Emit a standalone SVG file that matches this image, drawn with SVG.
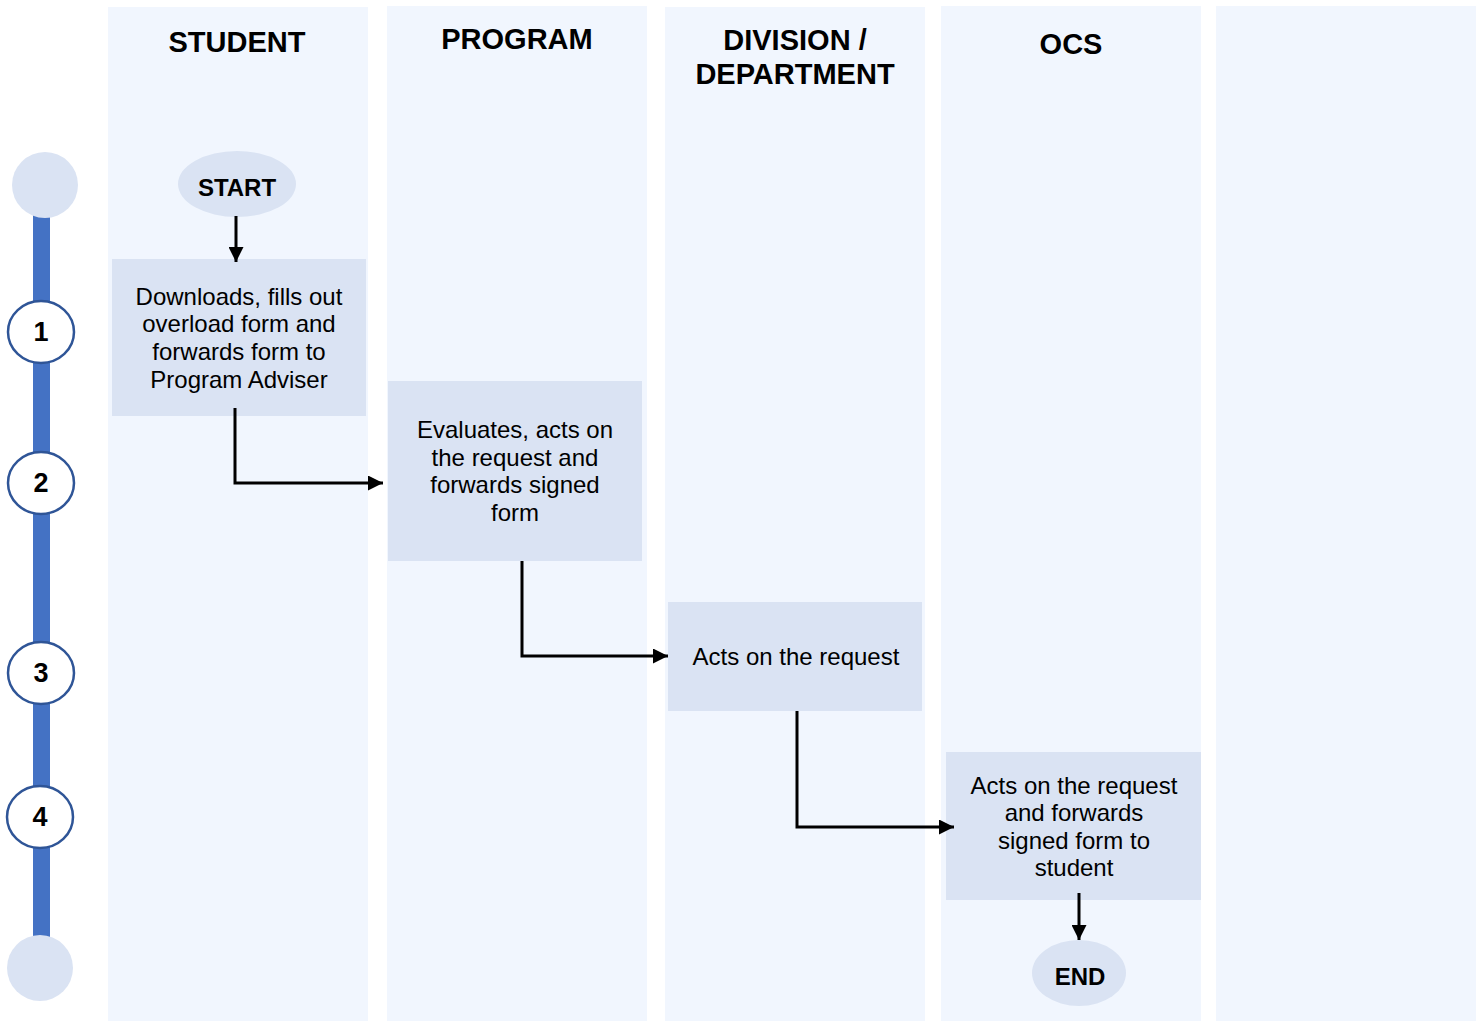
<svg xmlns="http://www.w3.org/2000/svg" width="1483" height="1021" viewBox="0 0 1483 1021">
<style>
.lane{fill:#f1f6fe}
.box{fill:#dae3f3}
.hdr{font-family:"Liberation Sans",Arial,sans-serif;font-weight:bold;font-size:29px;fill:#000;text-anchor:middle}
.t{font-family:"Liberation Sans",Arial,sans-serif;font-size:24px;fill:#000;text-anchor:middle}
.tb{font-family:"Liberation Sans",Arial,sans-serif;font-weight:bold;font-size:24px;fill:#000;text-anchor:middle}
.num{font-family:"Liberation Sans",Arial,sans-serif;font-weight:bold;font-size:27px;fill:#000;text-anchor:middle}
.step{fill:#fff;stroke:#2f5597;stroke-width:2.5}
.conn{fill:none;stroke:#000;stroke-width:3}
</style>
<defs>
<marker id="ah" markerWidth="5" markerHeight="5" refX="5" refY="2.5" orient="auto" markerUnits="strokeWidth">
<path d="M0,0 L5,2.5 L0,5 z" fill="#000"/>
</marker>
</defs>
<rect width="1483" height="1021" fill="#fff"/>
<g id="lanes">
<rect class="lane" x="108" y="7" width="260" height="1014"/>
<rect class="lane" x="387" y="6" width="260" height="1015"/>
<rect class="lane" x="665" y="7" width="260" height="1014"/>
<rect class="lane" x="941" y="6" width="260" height="1015"/>
<rect class="lane" x="1216" y="6" width="260" height="1015"/>
<text class="hdr" x="237" y="52">STUDENT</text>
<text class="hdr" x="517" y="49">PROGRAM</text>
<text class="hdr" x="795" y="50">DIVISION /</text>
<text class="hdr" x="795" y="84">DEPARTMENT</text>
<text class="hdr" x="1071" y="54">OCS</text>
</g>
<g id="timeline">
<rect x="33" y="190" width="17" height="770" fill="#4472c4"/>
<circle cx="45" cy="185" r="33" fill="#dae3f3"/>
<circle cx="40" cy="968" r="33" fill="#dae3f3"/>
<g id="step1"><ellipse class="step" cx="41" cy="332" rx="33" ry="31"/><text class="num" x="41" y="341">1</text></g>
<g id="step2"><ellipse class="step" cx="41" cy="483" rx="33" ry="31"/><text class="num" x="41" y="492">2</text></g>
<g id="step3"><ellipse class="step" cx="41" cy="673" rx="33" ry="31"/><text class="num" x="41" y="682">3</text></g>
<g id="step4"><ellipse class="step" cx="40" cy="817" rx="33" ry="31"/><text class="num" x="40" y="826">4</text></g>
</g>
<g id="start"><ellipse class="box" cx="237" cy="184" rx="59" ry="33"/><text class="tb" x="237" y="196">START</text></g>
<g id="n1"><rect class="box" x="112" y="259" width="254" height="157"/>
<text class="t" x="239" y="305">Downloads, fills out</text>
<text class="t" x="239" y="332">overload form and</text>
<text class="t" x="239" y="360">forwards form to</text>
<text class="t" x="239" y="388">Program Adviser</text></g>
<g id="n2"><rect class="box" x="388" y="381" width="254" height="180"/>
<text class="t" x="515" y="438">Evaluates, acts on</text>
<text class="t" x="515" y="466">the request and</text>
<text class="t" x="515" y="493">forwards signed</text>
<text class="t" x="515" y="521">form</text></g>
<g id="n3"><rect class="box" x="668" y="602" width="254" height="109"/>
<text class="t" x="796" y="665">Acts on the request</text></g>
<g id="n4"><rect class="box" x="946" y="752" width="255" height="148"/>
<text class="t" x="1074" y="794">Acts on the request</text>
<text class="t" x="1074" y="821">and forwards</text>
<text class="t" x="1074" y="849">signed form to</text>
<text class="t" x="1074" y="876">student</text></g>
<g id="end"><ellipse class="box" cx="1079" cy="973" rx="47" ry="33"/><text class="tb" x="1080" y="985">END</text></g>
<g id="connectors">
<path class="conn" d="M236,216 V262" marker-end="url(#ah)"/>
<path class="conn" d="M235,408 V483 H383" marker-end="url(#ah)"/>
<path class="conn" d="M522,561 V656 H668" marker-end="url(#ah)"/>
<path class="conn" d="M797,711 V827 H954" marker-end="url(#ah)"/>
<path class="conn" d="M1079,893 V940" marker-end="url(#ah)"/>
</g>
</svg>
